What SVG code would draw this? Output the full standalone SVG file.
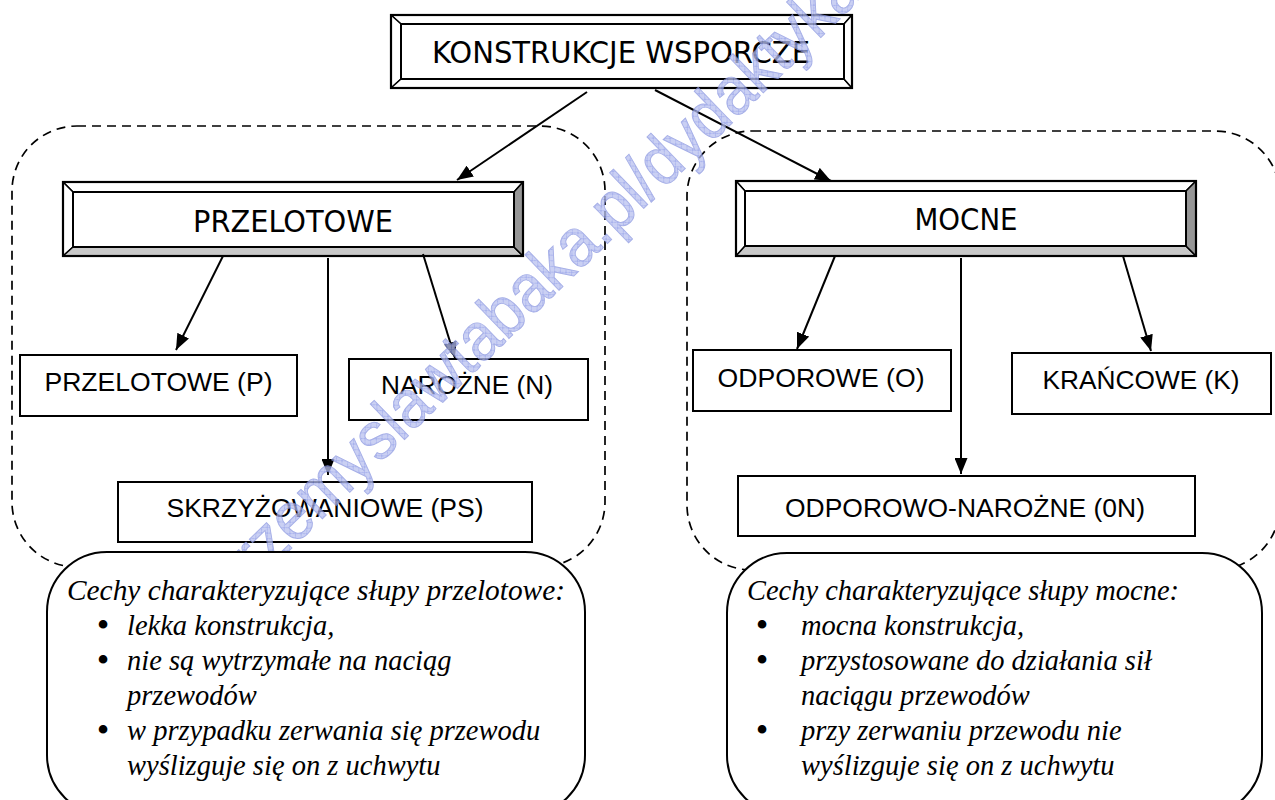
<svg xmlns="http://www.w3.org/2000/svg" width="1275" height="800" viewBox="0 0 1275 800">
<style>
.bg{fill:#fff}
.dash{fill:none;stroke:#000;stroke-width:1.7;stroke-dasharray:9 6}
.box{fill:#fff;stroke:#000;stroke-width:2}
.call{fill:#fff;stroke:#000;stroke-width:2}
.bv{stroke:#000;stroke-width:1.5;stroke-linejoin:round}
.lt{fill:#fff}
.md{fill:#c8c8c8}
.dk{fill:#969696}
.edge{fill:none;stroke:#000;stroke-width:2.2}
.ttl{font-family:"DejaVu Sans Condensed","DejaVu Sans",sans-serif;font-size:31px;fill:#000;text-anchor:middle}
.lbl{font-family:"Liberation Sans",Arial,sans-serif;font-size:25px;fill:#000;text-anchor:middle}
.it{font-family:"Liberation Serif","Times New Roman",serif;font-style:italic;font-size:28.5px;fill:#000}
.hd{font-size:29.5px}
.bul{font-family:"Liberation Serif","Times New Roman",serif;font-size:36px;fill:#000;text-anchor:middle}
.conn line{stroke:#000;stroke-width:2;marker-end:url(#ah)}
.wm{font-family:"Liberation Sans",Arial,sans-serif;font-size:68px;fill:url(#hatch);stroke:#8a96e0;stroke-width:1;opacity:.75}
</style>
<defs>
<marker id="ah" markerUnits="userSpaceOnUse" markerWidth="16" markerHeight="13" refX="16" refY="6.5" orient="auto">
<path d="M0,0 L16,6.5 L0,13 z" fill="#000"/>
</marker>
<pattern id="hatch" patternUnits="userSpaceOnUse" width="8" height="8">
<rect width="8" height="8" fill="#b9c1f0"/>
<path d="M0,0 L8,8 M8,0 L0,8" stroke="#6f7fe0" stroke-width="0.6"/>
</pattern>
</defs>
<rect class="bg" x="0" y="0" width="1275" height="800"/>

<g id="group-przelotowe-area">
<rect class="dash" x="12" y="126" width="593" height="441" rx="65" ry="65"/>
</g>
<g id="group-mocne-area">
<rect class="dash" x="687" y="131" width="593" height="439" rx="65" ry="65"/>
</g>

<g id="node-konstrukcje">
<polygon class="bv lt" points="391,15 852,15 844,24 401,24"/>
<polygon class="bv lt" points="391,15 401,24 401,79 391,88"/>
<polygon class="bv lt" points="391,88 401,79 844,79 852,88"/>
<polygon class="bv lt" points="852,15 852,88 844,79 844,24"/>
<rect class="box" x="401" y="24" width="443" height="55"/>
<rect class="edge" x="391" y="15" width="461" height="73"/>
<text class="ttl" x="621" y="63" textLength="378" lengthAdjust="spacingAndGlyphs">KONSTRUKCJE WSPORCZE</text>
</g>

<g id="node-przelotowe">
<polygon class="bv lt" points="63,182 523,182 514,192 73,192"/>
<polygon class="bv lt" points="63,182 73,192 73,247 63,256"/>
<polygon class="bv md" points="63,256 73,247 514,247 523,256"/>
<polygon class="bv dk" points="523,182 523,256 514,247 514,192"/>
<rect class="box" x="73" y="192" width="441" height="55"/>
<rect class="edge" x="63" y="182" width="460" height="74"/>
<text class="ttl" x="293" y="232" textLength="200" lengthAdjust="spacingAndGlyphs">PRZELOTOWE</text>
</g>

<g id="node-mocne">
<polygon class="bv lt" points="736,181 1196,181 1186,191 745,191"/>
<polygon class="bv lt" points="736,181 745,191 745,246 736,256"/>
<polygon class="bv md" points="736,256 745,246 1186,246 1196,256"/>
<polygon class="bv dk" points="1196,181 1196,256 1186,246 1186,191"/>
<rect class="box" x="745" y="191" width="441" height="55"/>
<rect class="edge" x="736" y="181" width="460" height="75"/>
<text class="ttl" x="966" y="230" textLength="103" lengthAdjust="spacingAndGlyphs">MOCNE</text>
</g>

<g id="node-p">
<rect class="box" x="20" y="355" width="277" height="61"/>
<text class="lbl" x="158.5" y="391" textLength="228" lengthAdjust="spacingAndGlyphs">PRZELOTOWE (P)</text>
</g>
<g id="node-n">
<rect class="box" x="349" y="359" width="239" height="61"/>
<text class="lbl" x="467" y="394" textLength="172" lengthAdjust="spacingAndGlyphs">NAROŻNE (N)</text>
</g>
<g id="node-ps">
<rect class="box" x="118" y="482" width="414" height="60"/>
<text class="lbl" x="325" y="517" textLength="317" lengthAdjust="spacingAndGlyphs">SKRZYŻOWANIOWE (PS)</text>
</g>
<g id="node-o">
<rect class="box" x="693" y="350" width="258" height="61"/>
<text class="lbl" x="821" y="387" textLength="207" lengthAdjust="spacingAndGlyphs">ODPOROWE (O)</text>
</g>
<g id="node-k">
<rect class="box" x="1012" y="353" width="259" height="61"/>
<text class="lbl" x="1141" y="389" textLength="197" lengthAdjust="spacingAndGlyphs">KRAŃCOWE (K)</text>
</g>
<g id="node-on">
<rect class="box" x="738" y="476" width="457" height="60"/>
<text class="lbl" x="965" y="517" textLength="360" lengthAdjust="spacingAndGlyphs">ODPOROWO-NAROŻNE (0N)</text>
</g>

<g id="connectors" class="conn">
<line x1="587" y1="92" x2="457" y2="180"/>
<line x1="655" y1="90" x2="831" y2="181"/>
<line x1="223" y1="256" x2="176" y2="350"/>
<line x1="328" y1="258" x2="328" y2="475"/>
<line x1="423" y1="254" x2="455" y2="358"/>
<line x1="835" y1="256" x2="797" y2="349"/>
<line x1="961" y1="258" x2="961" y2="474"/>
<line x1="1123" y1="256" x2="1151" y2="351"/>
</g>

<g id="watermark">
<text class="wm" transform="translate(232,606) rotate(-44)" textLength="880" lengthAdjust="spacingAndGlyphs">przemyslawtabaka.pl/dydaktyka</text>
</g>

<g id="callout-przelotowe">
<rect class="call" x="47" y="552" width="538" height="263" rx="60" ry="60"/>
<text class="it hd" x="67" y="600" textLength="498" lengthAdjust="spacingAndGlyphs">Cechy charakteryzujące słupy przelotowe:</text>
<text class="bul" x="103" y="637">•</text>
<text class="it" x="127" y="635">lekka konstrukcja,</text>
<text class="bul" x="103" y="672">•</text>
<text class="it" x="127" y="670">nie są wytrzymałe na naciąg</text>
<text class="it" x="127" y="705">przewodów</text>
<text class="bul" x="103" y="742">•</text>
<text class="it" x="127" y="740">w przypadku zerwania się przewodu</text>
<text class="it" x="127" y="775">wyślizguje się on z uchwytu</text>
</g>

<g id="callout-mocne">
<rect class="call" x="727" y="553" width="535" height="262" rx="60" ry="60"/>
<text class="it hd" x="747" y="600" textLength="432" lengthAdjust="spacingAndGlyphs">Cechy charakteryzujące słupy mocne:</text>
<text class="bul" x="762" y="637">•</text>
<text class="it" x="801" y="635">mocna konstrukcja,</text>
<text class="bul" x="762" y="672">•</text>
<text class="it" x="801" y="670">przystosowane do działania sił</text>
<text class="it" x="801" y="705">naciągu przewodów</text>
<text class="bul" x="762" y="742">•</text>
<text class="it" x="801" y="740">przy zerwaniu przewodu nie</text>
<text class="it" x="801" y="775">wyślizguje się on z uchwytu</text>
</g>
</svg>
